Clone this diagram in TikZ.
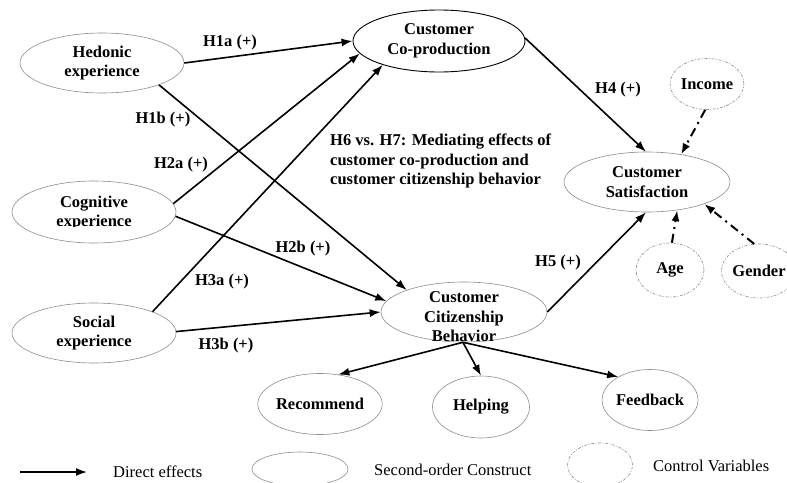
\documentclass[tikz,border=0pt]{standalone}
\usepackage{fontspec}
\setmainfont{Liberation Serif}
\usetikzlibrary{arrows.meta,shapes.geometric}
\tikzset{
  construct/.style={ellipse, draw=black!45, line width=0.6pt, inner sep=0pt, align=center, font=\bfseries\fontsize{16.5}{19.5}\selectfont},
  mainconstruct/.style={construct, draw=black, line width=0.9pt},
  control/.style={ellipse, draw=black!45, line width=0.6pt, dash pattern=on 3pt off 1.5pt on 1pt off 1.5pt, inner sep=0pt, align=center, font=\bfseries\fontsize{16.5}{19.5}\selectfont},
  txt/.style={inner sep=0pt, align=center, font=\bfseries\fontsize{16.5}{19.5}\selectfont},
  legtxt/.style={inner sep=0pt, anchor=west, font=\fontsize{16.5}{19.5}\selectfont},
  effect/.style={line width=1.6pt, -{Latex[length=11pt,width=8pt]}},
  ctrlarrow/.style={line width=2pt, dash pattern=on 9pt off 5pt on 2pt off 5pt, -{Latex[length=11pt,width=8pt]}},
}
\begin{document}
\begin{tikzpicture}[x=1pt,y=-1pt]
\useasboundingbox (0,0) rectangle (787,482);
% constructs
\node[construct, minimum width=164pt, minimum height=60pt] (hed) at (102,63) {Hedonic\\experience};
\node[construct, minimum width=164pt, minimum height=62pt] (cog) at (94,212) {};
\begin{scope}
  \clip (0,170) rectangle (200,226.5);
  \node[txt] (cogtxt) at (94,213) {Cognitive\\experience};
\end{scope}
\node[construct, minimum width=164pt, minimum height=60pt] (soc) at (94,333) {Social\\experience};
\node[mainconstruct, minimum width=172pt, minimum height=62pt] (cop) at (439,41) {Customer\\Co-production};
\node[construct, minimum width=166pt, minimum height=60pt] (ccb) at (464,312) {};
\node[txt] (ccbtxt) at (464,317) {Customer\\Citizenship\\Behavior};
\node[construct, minimum width=166pt, minimum height=60pt] (sat) at (647,182) {Customer\\Satisfaction};
\node[construct, minimum width=95pt, minimum height=61pt] (rec) at (320,404) {Recommend};
\node[construct, minimum width=97pt, minimum height=62pt] (hel) at (481,407) {Helping};
\node[construct, minimum width=88pt, minimum height=61pt] (fee) at (650,400) {Feedback};
% controls
\node[control, minimum width=65pt, minimum height=51pt] (inc) at (707,84) {Income};
\node[control, minimum width=68pt, minimum height=54pt] (age) at (670,270) {Age};
\node[control, minimum width=57pt, minimum height=54pt] (gen) at (759,271) {Gender};
% effects
\draw[effect] (hed.0) -- (cop.180);
\draw[effect] (hed.-21.6) -- (ccb.159.6);
\draw[effect] (cog.6.3) -- (cop.189.2);
\draw[effect] (cog.-3.4) -- (ccb.172.8);
\draw[effect] (soc.20.8) -- (cop.203.2);
\draw[effect] (soc.1.4) -- (ccb.180);
\draw[effect] (cop.2) -- (sat.92);
\draw[effect] (ccb.0) -- (sat.268);
\draw[effect] (ccb.268) -- (rec.58.2);
\draw[effect] (ccb.268) -- (hel.90);
\draw[effect] (ccb.268) -- (fee.144);
\draw[ctrlarrow] (inc.-94) -- (sat.39.8);
\draw[ctrlarrow] (age.86) -- (sat.-43.3);
\draw[ctrlarrow] (gen.100) -- (sat.-21);
% labels
\node[txt] (l1a) at (230,43) {H1a (+)};
\node[txt] (l1b) at (163,120) {H1b (+)};
\node[txt] (l2a) at (181,165) {H2a (+)};
\node[txt] (l2b) at (303,249) {H2b (+)};
\node[txt] (l3a) at (222,282) {H3a (+)};
\node[txt] (l3b) at (226,346) {H3b (+)};
\node[txt] (l4) at (618,90) {H4 (+)};
\node[txt] (l5) at (558,263) {H5 (+)};
\node[txt, anchor=west, align=left] (h67) at (330,161) {H6 vs. H7: Mediating effects of\\customer co-production and\\customer citizenship behavior};
% legend
\coordinate (lega) at (20,472);
\coordinate (legb) at (87,472);
\draw[effect] (lega) -- (legb);
\node[legtxt] (legt1) at (113,472) {Direct effects};
\node[construct, minimum width=96pt, minimum height=34pt] (lege) at (300,469) {};
\node[legtxt] (legt2) at (374,470) {Second-order Construct};
\node[control, minimum width=65pt, minimum height=44pt] (legc) at (600,465) {};
\node[legtxt] (legt3) at (653,466) {Control Variables};
\end{tikzpicture}
\end{document}
